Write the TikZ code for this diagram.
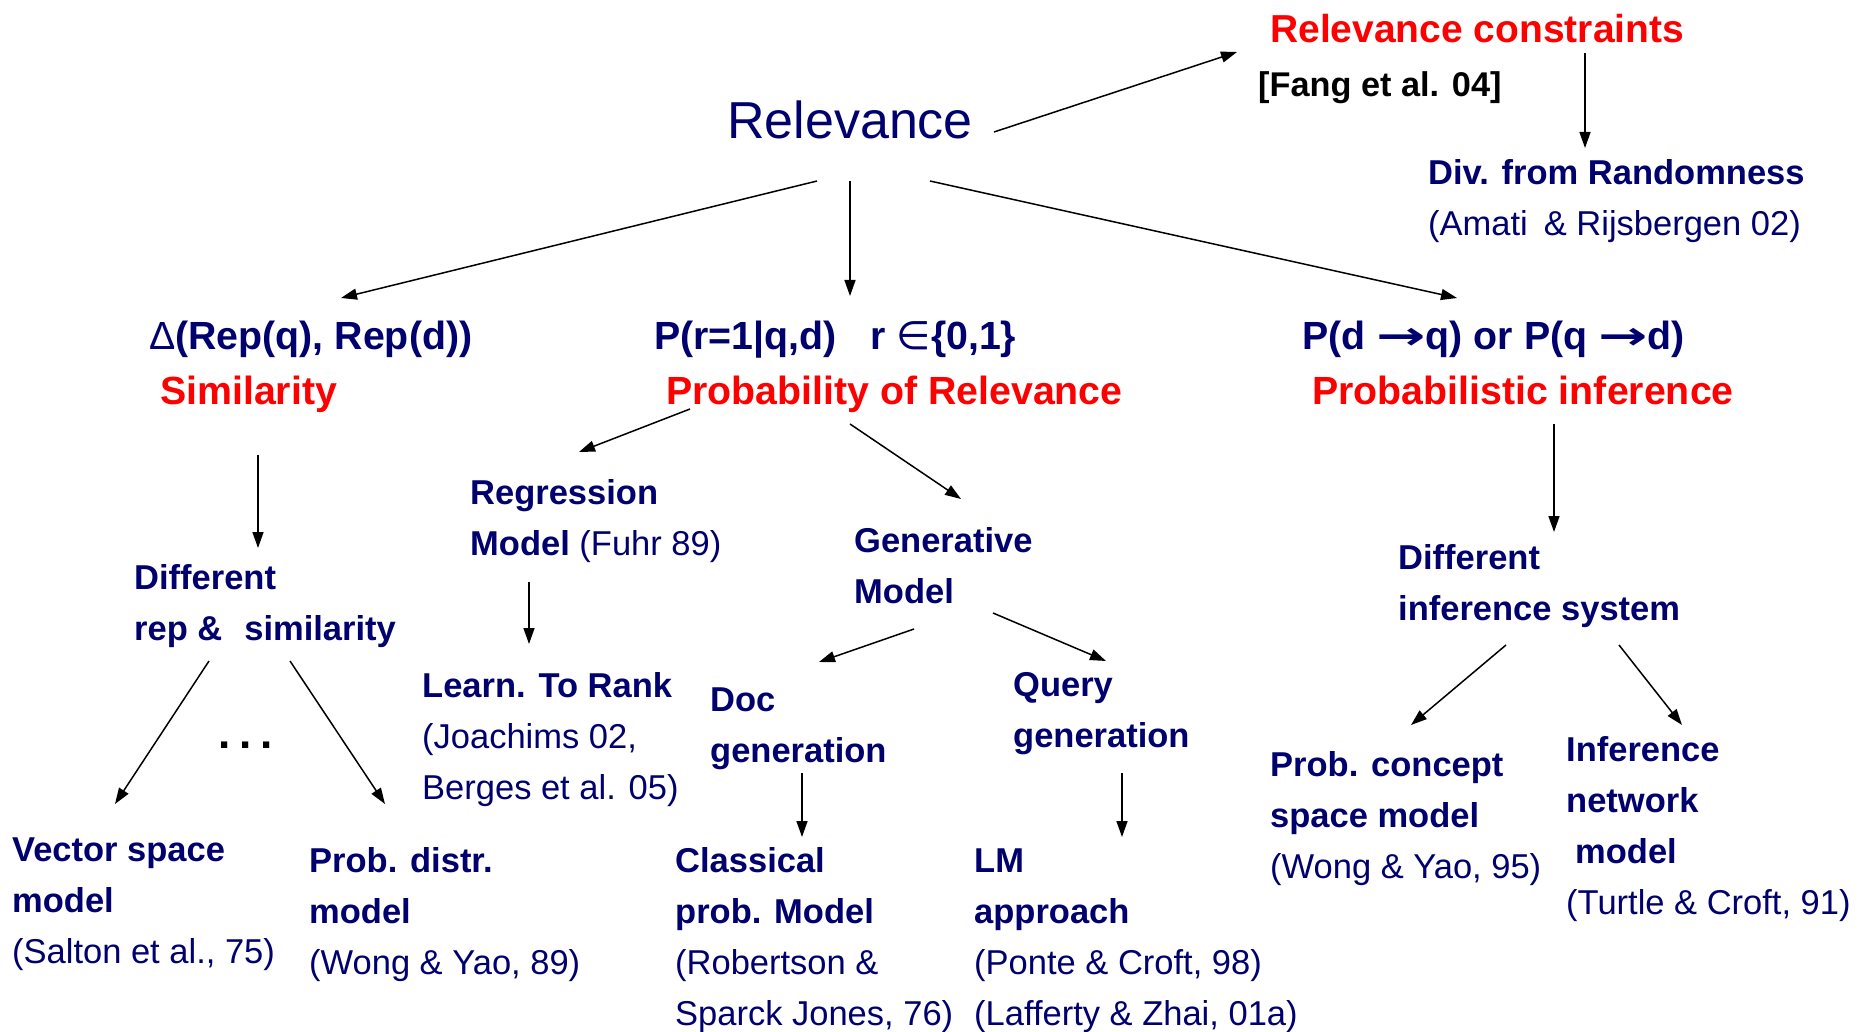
\documentclass[tikz,border=0pt]{standalone}
\usepackage{fontspec}
\usepackage{graphicx}
\setmainfont{Liberation Sans}
\newfontfamily\dejavu{DejaVu Sans}
\usetikzlibrary{arrows.meta}
\definecolor{inkblue}{RGB}{0,0,110}
% invisible struts that fix the height of a label's first line
\newcommand\st{\rule{0pt}{30pt}}
\newcommand\sth{\rule{0pt}{33pt}}
% long implication arrow used in the inference formula
\newcommand\implies{{\dejavu\scalebox{1.5}[1]{→}}}
\begin{document}
\begin{tikzpicture}[x=1pt,y=-1pt,
  lab/.style={anchor=north west,inner sep=0pt,align=left,text=inkblue,
    font=\fontsize{34.5}{51}\selectfont\bfseries},
  head/.style={anchor=north west,inner sep=0pt,align=left,text=inkblue,
    font=\fontsize{39.3}{55}\selectfont\bfseries},
  link/.style={-{Triangle[length=16pt,width=11pt]},line width=1.5pt,black}]
\fill[white] (0,0) rectangle (1864,1032);
\useasboundingbox (0,0) rectangle (1864,1032);

% root and the constraint branch
\node[anchor=base west,inner sep=0pt,text=inkblue,font=\fontsize{52}{60}\selectfont] (rel) at (727,139) {Relevance};
\node[anchor=base west,inner sep=0pt,text=red,font=\fontsize{39}{45}\selectfont\bfseries] (rc) at (1270,43) {Relevance constraints};
\node[anchor=base west,inner sep=0pt,text=black,font=\fontsize{34.3}{40}\selectfont\bfseries] (fang) at (1258,97) {[Fang et al. 04]};
\node[lab] (div) at (1428,154) {\st Div. from Randomness\\{\mdseries(Amati\hspace{16pt}\& Rijsbergen 02)}};

% the three main views
\node[head] (sim) at (149,316) {\sth{\mdseries Δ}(Rep(q), Rep(d))\\\hspace*{11pt}\textcolor{red}{Similarity}};
\node[head] (prob) at (654,316) {\sth P(r=1|q,d)\hspace{34pt}r {\mdseries\dejavu ∈}\{0,1\}\\\hspace*{12pt}\textcolor{red}{Probability of Relevance}};
\node[head] (infer) at (1302,316) {\sth P(d \implies q) or P(q \implies d)\\\hspace*{10pt}\textcolor{red}{Probabilistic inference}};

% second level
\node[lab] (diffrep) at (134,559) {\st Different\\rep \&\hspace{22pt}similarity};
\node[lab] (reg) at (470,474) {\st Regression\\Model {\mdseries(Fuhr 89)}};
\node[lab] (gen) at (854,522) {\st Generative\\Model};
\node[lab] (diffinf) at (1398,539) {\st Different\\inference system};

% third level
\node[lab] (learn) at (422,667) {\st Learn. To Rank\\{\mdseries(Joachims 02,}\\{\mdseries Berges et al. 05)}};
\node[lab] (doc) at (710,681) {\st Doc\\generation};
\node[lab] (query) at (1013,666) {\st Query\\generation};
\node[lab] (pconcept) at (1270,746) {\st Prob. concept\\space model\\{\mdseries(Wong \& Yao, 95)}};
\node[lab] (infnet) at (1566,731) {\st Inference\\network\\\hspace*{9pt}model\\{\mdseries(Turtle \& Croft, 91)}};

% leaves
\node[lab] (vec) at (12,831) {\st Vector space\\model\\{\mdseries(Salton et al., 75)}};
\node[lab] (pdistr) at (309,842) {\st Prob. distr.\\model\\{\mdseries(Wong \& Yao, 89)}};
\node[lab] (classical) at (675,842) {\st Classical\\prob. Model\\{\mdseries(Robertson \&}\\{\mdseries Sparck Jones, 76)}};
\node[lab] (lm) at (974,842) {\st LM\\approach\\{\mdseries(Ponte \& Croft, 98)}\\{\mdseries(Lafferty \& Zhai, 01a)}};
\node[anchor=base west,inner sep=0pt,font=\fontsize{44}{50}\selectfont\bfseries] (dots) at (218,748) {.\hspace{9pt}.\hspace{9pt}.};

% connectors
\draw[link] ([shift={(267,-7)}]rel.base west) -- ([shift={(-33,9)}]rc.base west);
\draw[link] ([shift={(315,10)}]rc.base west) -- ([shift={(157,-6)}]div.north west);
\draw[link] ([shift={(90,42)}]rel.base west) -- ([shift={(192,-18)}]sim.north west);
\draw[link] ([shift={(123,42)}]rel.base west) -- ([shift={(196,-20)}]prob.north west);
\draw[link] ([shift={(203,42)}]rel.base west) -- ([shift={(155,-18)}]infer.north west);
\draw[link] ([shift={(109,139)}]sim.north west) -- ([shift={(124,-11)}]diffrep.north west);
\draw[link] ([shift={(36,93)}]prob.north west) -- ([shift={(109,-22)}]reg.north west);
\draw[link] ([shift={(196,108)}]prob.north west) -- ([shift={(107,-23)}]gen.north west);
\draw[link] ([shift={(59,108)}]reg.north west) -- ([shift={(107,-23)}]learn.north west);
\draw[link] ([shift={(60,107)}]gen.north west) -- ([shift={(109,-19)}]doc.north west);
\draw[link] ([shift={(139,91)}]gen.north west) -- ([shift={(93,-5)}]query.north west);
\draw[link] ([shift={(92,92)}]doc.north west) -- ([shift={(127,-5)}]classical.north west);
\draw[link] ([shift={(109,107)}]query.north west) -- ([shift={(148,-5)}]lm.north west);
\draw[link] ([shift={(75,102)}]diffrep.north west) -- ([shift={(103,-27)}]vec.north west);
\draw[link] ([shift={(156,102)}]diffrep.north west) -- ([shift={(76,-38)}]pdistr.north west);
\draw[link] ([shift={(252,108)}]infer.north west) -- ([shift={(156,-7)}]diffinf.north west);
\draw[link] ([shift={(108,106)}]diffinf.north west) -- ([shift={(141,-21)}]pconcept.north west);
\draw[link] ([shift={(221,106)}]diffinf.north west) -- ([shift={(116,-6)}]infnet.north west);
\end{tikzpicture}
\end{document}
